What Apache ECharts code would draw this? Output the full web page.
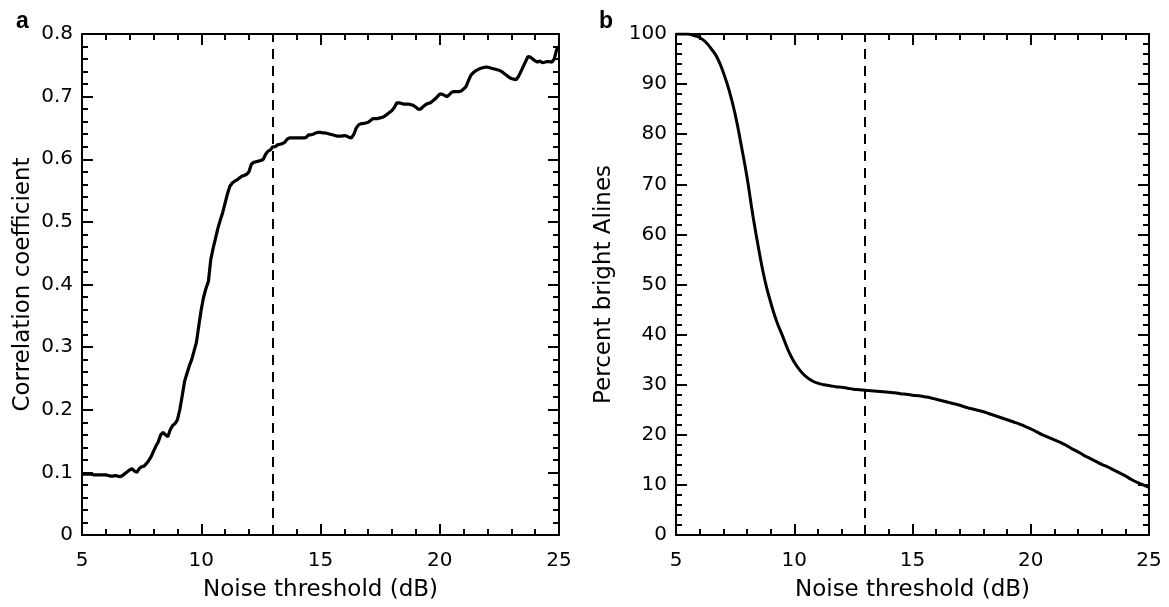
<!DOCTYPE html>
<html>
<head>
<meta charset="utf-8">
<script src="https://cdn.jsdelivr.net/npm/echarts@6/dist/echarts.min.js"></script>
<style>
html,body{margin:0;padding:0;background:#fff;}
#c{width:1169px;height:607px;}
</style>
</head>
<body>
<div id="c"></div>
<script>
// Panel a: correlation coefficient, sampled every 0.1 dB from 5 to 25
const corrStart = 5, corrStep = 0.1;
const corrValues = [
0.097,0.097,0.097,0.097,0.097,0.096,0.096,0.096,0.096,0.096,
0.096,0.095,0.094,0.094,0.095,0.094,0.093,0.095,0.098,0.101,
0.104,0.106,0.102,0.100,0.106,0.109,0.110,0.114,0.119,0.125,
0.134,0.142,0.149,0.160,0.164,0.160,0.157,0.168,0.175,0.178,
0.184,0.200,0.222,0.245,0.258,0.270,0.280,0.294,0.308,0.335,
0.360,0.380,0.394,0.405,0.440,0.458,0.474,0.490,0.503,0.515,
0.530,0.545,0.557,0.562,0.565,0.567,0.570,0.573,0.574,0.576,
0.580,0.592,0.595,0.596,0.597,0.598,0.600,0.608,0.613,0.615,
0.620,0.620,0.623,0.624,0.625,0.627,0.632,0.634,0.634,0.634,
0.634,0.634,0.634,0.634,0.635,0.639,0.639,0.640,0.642,0.643,
0.643,0.642,0.642,0.641,0.640,0.639,0.638,0.637,0.637,0.637,
0.638,0.637,0.635,0.634,0.640,0.650,0.655,0.657,0.657,0.658,
0.659,0.662,0.665,0.665,0.665,0.666,0.667,0.669,0.672,0.675,
0.678,0.683,0.690,0.690,0.689,0.688,0.688,0.688,0.687,0.686,
0.683,0.680,0.680,0.684,0.687,0.689,0.690,0.693,0.696,0.700,
0.704,0.704,0.702,0.700,0.703,0.707,0.708,0.708,0.708,0.709,
0.712,0.716,0.725,0.734,0.738,0.741,0.743,0.745,0.746,0.747,
0.747,0.746,0.745,0.744,0.743,0.742,0.740,0.737,0.734,0.731,
0.729,0.728,0.727,0.732,0.740,0.748,0.756,0.764,0.763,0.760,
0.757,0.755,0.757,0.754,0.755,0.756,0.756,0.755,0.760,0.775,
0.780
];
// Panel b: percent bright A-lines, sampled every 0.25 dB from 5 to 25
const pctStart = 5, pctStep = 0.25;
const pctValues = [
100.0,100.0,100.0,99.7,99.3,98.4,97.0,95.2,92.3,88.7,
84.0,78.0,71.5,63.8,57.0,51.0,46.5,42.7,39.8,36.8,
34.5,32.8,31.6,30.8,30.3,30.0,29.8,29.6,29.5,29.3,
29.1,29.0,28.9,28.8,28.7,28.6,28.5,28.4,28.2,28.1,
27.9,27.8,27.6,27.4,27.1,26.8,26.5,26.2,25.9,25.5,
25.2,24.9,24.6,24.2,23.8,23.4,23.0,22.6,22.2,21.7,
21.2,20.6,20.0,19.5,19.0,18.5,17.9,17.2,16.6,15.9,
15.3,14.7,14.1,13.6,13.0,12.4,11.8,11.1,10.5,10.0,
9.5
];
const thresholdLine = 13;
const panelLabels = ['a', 'b'];
const xName = 'Noise threshold (dB)';
const yNames = ['Correlation coefficient', 'Percent bright Alines'];

const corrData = corrValues.map((v, i) => [+(corrStart + i * corrStep).toFixed(2), v]);
const pctData = pctValues.map((v, i) => [+(pctStart + i * pctStep).toFixed(2), v]);

const FONT = 'DejaVu Sans, sans-serif';
const TITLE_FONT = 'Liberation Sans, Arial, sans-serif';
const black = '#000';

function xAx(grid, pos, showLabel) {
  return {
    type: 'value', gridIndex: grid, position: pos, min: 5, max: 25, interval: 5,
    axisLine: { show: true, onZero: false, lineStyle: { color: black, width: 2 } },
    axisTick: { show: true, inside: true, length: 11, lineStyle: { color: black, width: 2 } },
    minorTick: { show: true, splitNumber: 5, length: 6, lineStyle: { color: black, width: 2 } },
    splitLine: { show: false },
    axisLabel: { show: showLabel, color: black, fontSize: 20, fontFamily: FONT, margin: 16 },
    name: showLabel ? xName : '', nameLocation: 'middle', nameGap: 44,
    nameTextStyle: { color: black, fontSize: 23, fontFamily: FONT }
  };
}
function yAx(grid, pos, showLabel, max, interval, name, gap) {
  return {
    type: 'value', gridIndex: grid, position: pos, min: 0, max: max, interval: interval,
    axisLine: { show: true, onZero: false, lineStyle: { color: black, width: 2 } },
    axisTick: { show: true, inside: true, length: 11, lineStyle: { color: black, width: 2 } },
    minorTick: { show: true, splitNumber: 5, length: 6, lineStyle: { color: black, width: 2 } },
    splitLine: { show: false },
    axisLabel: { show: showLabel, color: black, fontSize: 20, fontFamily: FONT, margin: 9 },
    name: showLabel ? name : '', nameLocation: 'middle', nameGap: gap,
    nameTextStyle: { color: black, fontSize: 23, fontFamily: FONT }
  };
}

const markLine = {
  silent: true, symbol: 'none', label: { show: false },
  lineStyle: { color: black, width: 2, type: [10, 7] },
  data: [{ xAxis: thresholdLine }]
};

const chart = echarts.init(document.getElementById('c'), null, { renderer: 'canvas' });
chart.setOption({
  backgroundColor: '#fff',
  animation: false,
  title: [
    { text: panelLabels[0], left: 11, top: 5, textStyle: { fontSize: 23, fontWeight: 'bold', color: black, fontFamily: TITLE_FONT } },
    { text: panelLabels[1], left: 594, top: 5, textStyle: { fontSize: 23, fontWeight: 'bold', color: black, fontFamily: TITLE_FONT } }
  ],
  grid: [
    { left: 82, top: 34, width: 477, height: 501 },
    { left: 676, top: 34, width: 473, height: 501 }
  ],
  xAxis: [ xAx(0, 'bottom', true), xAx(0, 'top', false), xAx(1, 'bottom', true), xAx(1, 'top', false) ],
  yAxis: [
    yAx(0, 'left', true, 0.8, 0.1, yNames[0], 47),
    yAx(0, 'right', false, 0.8, 0.1, '', 0),
    yAx(1, 'left', true, 100, 10, yNames[1], 60),
    yAx(1, 'right', false, 100, 10, '', 0)
  ],
  series: [
    {
      type: 'line', xAxisIndex: 0, yAxisIndex: 0, data: corrData,
      showSymbol: false, symbol: 'none', smooth: false,
      lineStyle: { color: black, width: 3.2 },
      markLine: markLine, z: 3
    },
    {
      type: 'line', xAxisIndex: 2, yAxisIndex: 2, data: pctData,
      showSymbol: false, symbol: 'none', smooth: true,
      lineStyle: { color: black, width: 3 },
      markLine: markLine, z: 3
    }
  ]
});
</script>
</body>
</html>
